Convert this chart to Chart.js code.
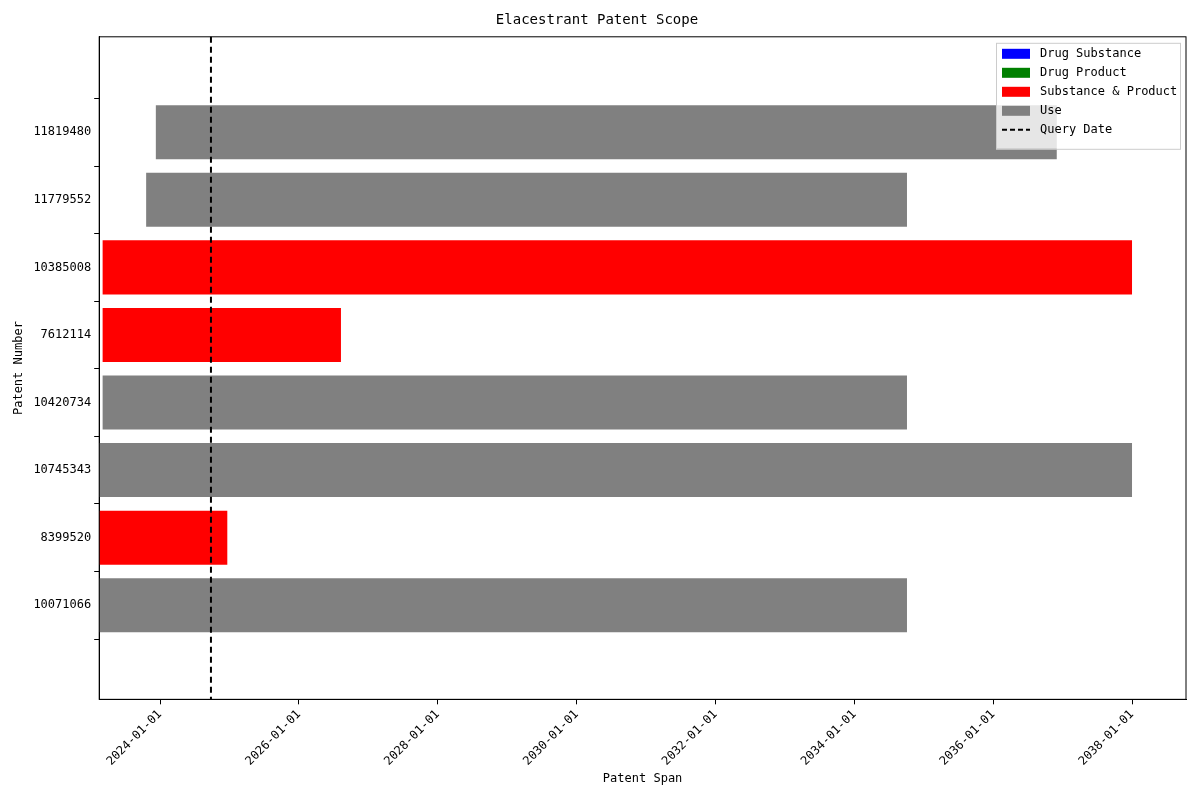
<!DOCTYPE html>
<html>
<head>
<meta charset="utf-8">
<script src="https://cdn.jsdelivr.net/npm/chart.js@4"></script>
<style>
  html, body { margin: 0; background: #fff; }
  #wrap { width: 1200px; height: 800px; }
</style>
</head>
<body>
<div id="wrap"><canvas id="myChart"></canvas></div>
<script>
const patents = ['11819480', '11779552', '10385008', '7612114', '10420734', '10745343', '8399520', '10071066'];
const startDates = ['2023-12-10', '2023-10-20', '2023-03-05', '2023-03-05', '2023-03-05', '2023-02-15', '2023-02-15', '2023-02-15'];
const endDates = ['2036-12-01', '2034-10-05', '2038-01-01', '2026-08-10', '2034-10-05', '2038-01-01', '2024-12-20', '2034-10-05'];
const scopes = ['Use', 'Use', 'Substance & Product', 'Substance & Product', 'Use', 'Use', 'Substance & Product', 'Use'];
const queryDate = '2024-09-25';
const tickYears = [2024, 2026, 2028, 2030, 2032, 2034, 2036, 2038];

const scopeColors = {
    'Drug Substance': 'blue',
    'Drug Product': 'green',
    'Substance & Product': 'red',
    'Use': 'gray'
};

const FONT = "'DejaVu Sans Mono', monospace";
const toMs = s => Date.parse(s + 'T00:00:00Z');
const fmt = ms => new Date(ms).toISOString().slice(0, 10);

const queryLine = {
    id: 'queryLine',
    afterDatasetsDraw(chart) {
        const { ctx, chartArea, scales } = chart;
        const x = scales.x.getPixelForValue(toMs(queryDate));
        ctx.save();
        ctx.strokeStyle = '#000';
        ctx.lineWidth = 2;
        ctx.setLineDash([6, 4]);
        ctx.beginPath();
        ctx.moveTo(x, chartArea.top);
        ctx.lineTo(x, chartArea.bottom);
        ctx.stroke();
        ctx.restore();
    }
};

// legend box drawn inside the plot, top right
const boxLegend = {
    id: 'boxLegend',
    afterDraw(chart) {
        const { ctx, chartArea } = chart;
        const items = Object.keys(scopeColors).concat(['Query Date']);
        const w = 184, h = 106, x0 = chartArea.right - w - 6, y0 = chartArea.top + 6;
        ctx.save();
        ctx.fillStyle = 'rgba(255,255,255,0.8)';
        ctx.strokeStyle = '#ccc';
        ctx.lineWidth = 1;
        ctx.fillRect(x0, y0, w, h);
        ctx.strokeRect(x0 + 0.5, y0 + 0.5, w, h);
        ctx.font = '12px ' + FONT;
        ctx.textBaseline = 'middle';
        items.forEach((name, i) => {
            const y = y0 + 11 + i * 19;
            if (scopeColors[name]) {
                ctx.fillStyle = scopeColors[name];
                ctx.fillRect(x0 + 6, y - 5, 28, 10);
            } else {
                ctx.strokeStyle = '#000';
                ctx.lineWidth = 2;
                ctx.setLineDash([5, 3]);
                ctx.beginPath();
                ctx.moveTo(x0 + 6, y);
                ctx.lineTo(x0 + 34, y);
                ctx.stroke();
                ctx.setLineDash([]);
            }
            ctx.fillStyle = '#000';
            ctx.fillText(name, x0 + 44, y);
        });
        ctx.restore();
    }
};

// frame around the plot area
const frame = {
    id: 'frame',
    afterDraw(chart) {
        const { ctx, chartArea } = chart;
        ctx.save();
        ctx.strokeStyle = '#000';
        ctx.lineWidth = 1;
        ctx.strokeRect(chartArea.left, chartArea.top, chartArea.right - chartArea.left, chartArea.bottom - chartArea.top);
        ctx.restore();
    }
};

const ctx = document.getElementById('myChart').getContext('2d');
new Chart(ctx, {
    type: 'bar',
    data: {
        datasets: [{
            data: patents.map((p, i) => ({ x: [toMs(startDates[i]), toMs(endDates[i])], y: i })),
            backgroundColor: scopes.map(s => scopeColors[s]),
            borderWidth: 0,
            borderSkipped: false,
            categoryPercentage: 1.0,
            barPercentage: 0.8
        }]
    },
    options: {
        indexAxis: 'y',
        responsive: true,
        maintainAspectRatio: false,
        animation: false,
        layout: { padding: { left: 8, right: 14, top: 4, bottom: 14 } },
        scales: {
            x: {
                type: 'linear',
                min: toMs('2023-02-15'),
                max: toMs('2038-10-12'),
                afterBuildTicks: axis => {
                    axis.ticks = tickYears.map(y => ({ value: toMs(y + '-01-01') }));
                },
                grid: { drawOnChartArea: false, drawTicks: true, tickLength: 5, color: '#000' },
                border: { color: '#000' },
                ticks: {
                    callback: v => fmt(v),
                    maxRotation: 45,
                    minRotation: 45,
                    color: '#000',
                    font: { family: FONT, size: 12 }
                },
                title: { display: true, text: 'Patent Span', color: '#000', font: { family: FONT, size: 12 }, padding: 0 }
            },
            y: {
                type: 'linear',
                reverse: true,
                min: -0.8,
                max: 7.78,
                afterBuildTicks: axis => {
                    axis.ticks = patents.map((p, i) => ({ value: i }));
                },
                grid: { drawOnChartArea: false, tickLength: 5, color: '#000' },
                border: { color: '#000' },
                ticks: { callback: v => patents[v], color: '#000', font: { family: FONT, size: 12 } },
                title: { display: true, text: 'Patent Number', color: '#000', font: { family: FONT, size: 12 } }
            }
        },
        plugins: {
            legend: { display: false },
            tooltip: { enabled: false },
            title: {
                display: true,
                text: 'Elacestrant Patent Scope',
                color: '#000',
                font: { family: FONT, size: 14, weight: 'normal' },
                padding: { top: 8, bottom: 8 }
            }
        }
    },
    plugins: [queryLine, boxLegend, frame]
});
</script>
</body>
</html>
